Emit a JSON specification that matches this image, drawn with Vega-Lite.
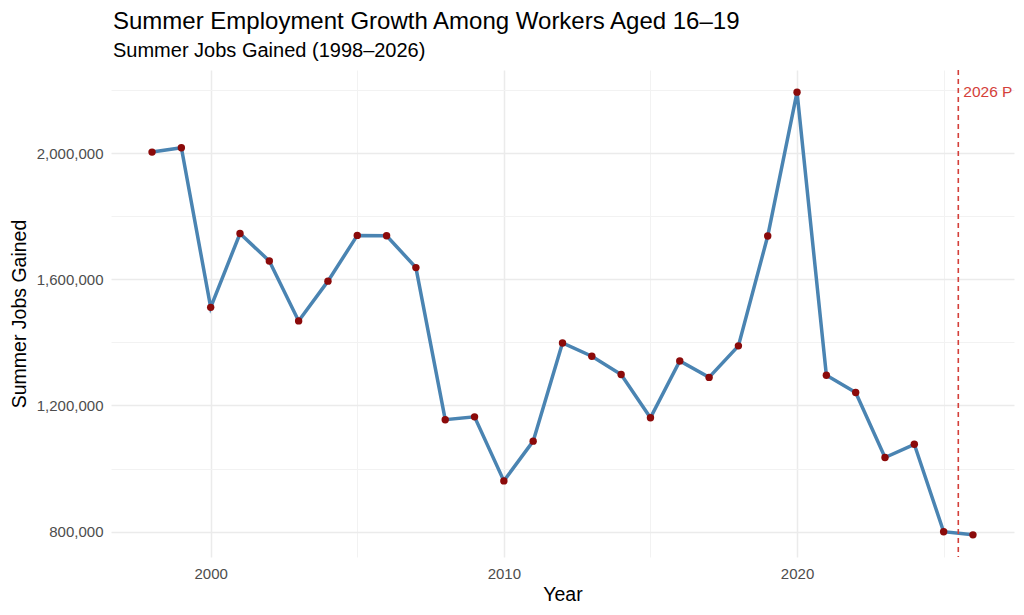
{
  "$schema": "https://vega.github.io/schema/vega-lite/v6.json",
  "autosize": {"type": "none"},
  "width": 903,
  "height": 487,
  "padding": {"left": 111, "top": 70, "right": 10, "bottom": 58},
  "background": "white",
  "config": {
    "font": "Liberation Sans",
    "view": {"stroke": null},
    "axis": {"domain": false, "ticks": false, "labelColor": "#4D4D4D", "titleColor": "#000000", "titleFontWeight": "normal", "labelFontSize": 15, "titleFontSize": 19.5}
  },
  "title": {
    "text": "Summer Employment Growth Among Workers Aged 16–19",
    "subtitle": "Summer Jobs Gained (1998–2026)",
    "anchor": "start",
    "frame": "group",
    "fontSize": 24,
    "fontWeight": "normal",
    "color": "#000000",
    "subtitleFontSize": 20,
    "subtitleColor": "#000000",
    "subtitlePadding": 7,
    "offset": 8,
    "dx": 2
  },
  "datasets": {
    "jobs": [
      {"year": 1998, "jobs": 2003000},
      {"year": 1999, "jobs": 2017000},
      {"year": 2000, "jobs": 1511000},
      {"year": 2001, "jobs": 1745000},
      {"year": 2002, "jobs": 1658000},
      {"year": 2003, "jobs": 1468000},
      {"year": 2004, "jobs": 1594000},
      {"year": 2005, "jobs": 1739000},
      {"year": 2006, "jobs": 1738000},
      {"year": 2007, "jobs": 1637000},
      {"year": 2008, "jobs": 1155000},
      {"year": 2009, "jobs": 1164000},
      {"year": 2010, "jobs": 961000},
      {"year": 2011, "jobs": 1087000},
      {"year": 2012, "jobs": 1398000},
      {"year": 2013, "jobs": 1356000},
      {"year": 2014, "jobs": 1298000},
      {"year": 2015, "jobs": 1161000},
      {"year": 2016, "jobs": 1341000},
      {"year": 2017, "jobs": 1289000},
      {"year": 2018, "jobs": 1389000},
      {"year": 2019, "jobs": 1737000},
      {"year": 2020, "jobs": 2193000},
      {"year": 2021, "jobs": 1296000},
      {"year": 2022, "jobs": 1241000},
      {"year": 2023, "jobs": 1035000},
      {"year": 2024, "jobs": 1077000},
      {"year": 2025, "jobs": 800000},
      {"year": 2026, "jobs": 790000}
    ],
    "marker": [
      {"year": 2025.5, "jobs": 2193000, "label": "2026 P"}
    ]
  },
  "layer": [
    {
      "data": {"name": "jobs"},
      "mark": {"type": "line", "color": "#4A84B2", "strokeWidth": 3.5},
      "encoding": {
        "x": {
          "field": "year", "type": "quantitative",
          "scale": {"domain": [1996.6, 2027.4], "nice": false, "zero": false},
          "axis": {
            "title": "Year",
            "values": [2000, 2005, 2010, 2015, 2020, 2025],
            "labelExpr": "datum.value % 10 === 0 ? datum.value + '' : ''",
            "labelPadding": 9,
            "titlePadding": 4,
            "gridColor": {"condition": {"test": "datum.value % 10 === 0", "value": "#EBEBEB"}, "value": "#F2F2F2"},
            "gridWidth": {"condition": {"test": "datum.value % 10 === 0", "value": 1.5}, "value": 1}
          }
        },
        "y": {
          "field": "jobs", "type": "quantitative",
          "scale": {"domain": [719850, 2263150], "nice": false, "zero": false},
          "axis": {
            "title": "Summer Jobs Gained",
            "values": [800000, 1000000, 1200000, 1400000, 1600000, 1800000, 2000000, 2200000],
            "labelExpr": "(datum.value - 800000) % 400000 === 0 ? format(datum.value, ',d') : ''",
            "labelPadding": 8,
            "titlePadding": 7,
            "gridColor": {"condition": {"test": "(datum.value - 800000) % 400000 === 0", "value": "#EBEBEB"}, "value": "#F2F2F2"},
            "gridWidth": {"condition": {"test": "(datum.value - 800000) % 400000 === 0", "value": 1.5}, "value": 1}
          }
        }
      }
    },
    {
      "data": {"name": "jobs"},
      "mark": {"type": "point", "filled": true, "color": "#8B0A0A", "size": 55, "opacity": 1},
      "encoding": {
        "x": {"field": "year", "type": "quantitative"},
        "y": {"field": "jobs", "type": "quantitative"}
      }
    },
    {
      "data": {"name": "marker"},
      "mark": {"type": "rule", "color": "#D43F3A", "strokeWidth": 1.6, "strokeDash": [5, 4]},
      "encoding": {
        "x": {"field": "year", "type": "quantitative"}
      }
    },
    {
      "data": {"name": "marker"},
      "mark": {"type": "text", "color": "#D43F3A", "fontSize": 15.5, "align": "left", "baseline": "middle", "dx": 5},
      "encoding": {
        "x": {"field": "year", "type": "quantitative"},
        "y": {"field": "jobs", "type": "quantitative"},
        "text": {"field": "label"}
      }
    }
  ]
}
